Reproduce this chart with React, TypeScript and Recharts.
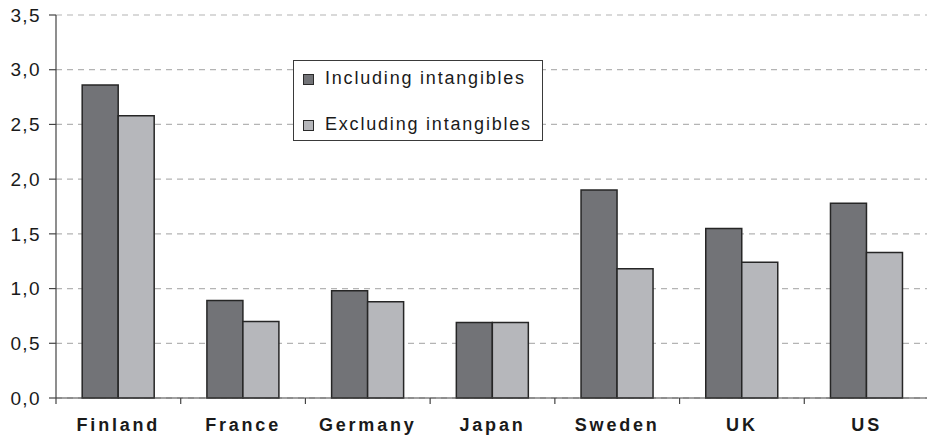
import React from "react";
import { BarChart, Bar, XAxis, YAxis, CartesianGrid } from "recharts";

const countries = ["Finland", "France", "Germany", "Japan", "Sweden", "UK", "US"];
const including = [2.86, 0.89, 0.98, 0.69, 1.9, 1.55, 1.78];
const excluding = [2.58, 0.7, 0.88, 0.69, 1.18, 1.24, 1.33];
const yTicks = [0, 0.5, 1, 1.5, 2, 2.5, 3, 3.5];

const seriesNames = ["Including intangibles", "Excluding intangibles"];
const colors = ["#727377", "#b6b7bb"];

const data = countries.map((c, i) => ({
  country: c,
  inc: including[i],
  exc: excluding[i],
}));

const FONT = "'Liberation Sans', Arial, sans-serif";

const LegendBox = () => (
  <div
    style={{
      position: "absolute",
      left: 293,
      top: 60,
      border: "1px solid #3a3a3a",
      background: "#fff",
      width: 250,
      height: 81,
      boxSizing: "border-box",
      fontFamily: FONT,
      fontSize: 18,
      letterSpacing: 1.8,
      color: "#1a1a1a",
    }}
  >
    {seriesNames.map((n, i) => (
      <div
        key={n}
        style={{
          position: "absolute",
          left: 9,
          top: i === 0 ? 6 : 52,
          display: "flex",
          alignItems: "center",
          whiteSpace: "nowrap",
          lineHeight: "22px",
        }}
      >
        <span
          style={{
            display: "inline-block",
            width: 9,
            height: 9,
            marginTop: 3,
            background: colors[i],
            border: "1px solid #2a2a2a",
            marginRight: 11,
          }}
        />
        {n}
      </div>
    ))}
  </div>
);

// Category label plus a small tick mark on the left boundary of each band
const CategoryTick = (props: any) => {
  const { x, y, payload } = props;
  const half = payload?.offset ?? 0;
  const bx = x - half;
  return (
    <g>
      <line x1={bx} y1={y - 20} x2={bx} y2={y - 14} stroke="#444" strokeWidth={1.2} />
      <text
        x={x}
        y={y}
        dy="0.71em"
        textAnchor="middle"
        fill="#1a1a1a"
        fontFamily={FONT}
        fontSize={18}
        fontWeight={700}
        letterSpacing={2.8}
      >
        {payload.value}
      </text>
    </g>
  );
};

export default function App() {
  return (
    <div style={{ position: "fixed", left: 0, top: 0, background: "#fff" }}>
      <BarChart
        width={930}
        height={438}
        data={data}
        margin={{ top: 15, right: 1, bottom: 0, left: 0 }}
        barCategoryGap="21%"
        barGap={0}
      >
        <CartesianGrid
          vertical={false}
          stroke="#b4b4b4"
          strokeDasharray="6 5"
          strokeWidth={1.2}
        />
        <XAxis
          dataKey="country"
          height={40}
          axisLine={{ stroke: "#444", strokeWidth: 1.2 }}
          tickLine={false}
          tick={<CategoryTick />}
          tickMargin={14}
          interval={0}
        />
        <YAxis
          width={56}
          domain={[0, 3.5]}
          ticks={yTicks}
          interval={0}
          tickFormatter={(v: number) => v.toFixed(1).replace(".", ",")}
          axisLine={{ stroke: "#444", strokeWidth: 1.2 }}
          tickLine={{ stroke: "#444", strokeWidth: 1.2 }}
          tickSize={7}
          tickMargin={8}
          tick={{
            fill: "#1a1a1a",
            fontFamily: FONT,
            fontSize: 19,
            letterSpacing: 1.4,
          }}
        />
        <Bar
          dataKey="inc"
          name={seriesNames[0]}
          fill={colors[0]}
          stroke="#262626"
          strokeWidth={1.5}
          isAnimationActive={false}
        />
        <Bar
          dataKey="exc"
          name={seriesNames[1]}
          fill={colors[1]}
          stroke="#262626"
          strokeWidth={1.5}
          isAnimationActive={false}
        />
      </BarChart>
      <LegendBox />
    </div>
  );
}
